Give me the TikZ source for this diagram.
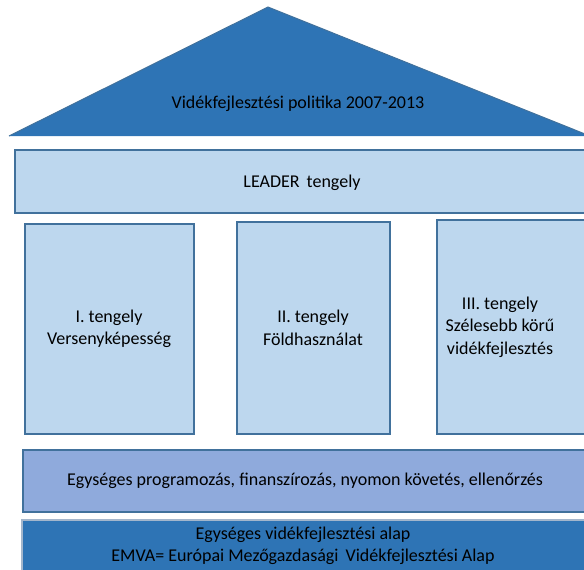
\documentclass[tikz,border=0pt]{standalone}
\usepackage{fontspec}
\setmainfont{Carlito}
\usetikzlibrary{positioning}
\definecolor{roofblue}{HTML}{2E74B5}
\definecolor{edgeblue}{HTML}{41719C}
\definecolor{paleblue}{HTML}{BDD7EE}
\definecolor{midblue}{HTML}{8FAADC}
\definecolor{softedge}{HTML}{A3B6CC}

\begin{document}
\begin{tikzpicture}[x=1pt,y=-1pt,
	label/.style={align=center,font=\fontsize{18}{22.5}\selectfont,inner sep=0pt},
	pillar/.style={draw=edgeblue,line width=2pt,fill=paleblue}]
	\useasboundingbox (0,0) rectangle (584,570);
	\clip (0,0) rectangle (584,570);
	% roof
	\fill[roofblue] (9,136) -- (268,7) -- (590,136) -- cycle;
	\draw[edgeblue,line width=1pt] (9,136) -- (268,7) -- (590,136);
	\node[label] (politika) at (298,104) {Vidékfejlesztési politika 2007-2013};
	% LEADER beam
	\draw[pillar] (15,150) rectangle (600,213);
	\node[label] (leader) at (302,183) {LEADER\, tengely};
	% the three axes
	\draw[pillar] (25,224) rectangle (194,434);
	\draw[pillar] (237,222) rectangle (390,434);
	\draw[pillar] (437,220) rectangle (600,434);
	\node[label] (axis1) at (109,329) {I. tengely\\Versenyképesség};
	\node[label] (axis2) at (313,328) {II. tengely\\Földhasználat};
	\node[label] (axis3) at (500,327) {III. tengely\\Szélesebb körű\\vidékfejlesztés};
	% base layers
	\draw[draw=edgeblue,line width=2pt,fill=midblue] (23,450) rectangle (600,512);
	\node[label] (program) at (305,481) {Egységes programozás, finanszírozás, nyomon követés, ellenőrzés};
	\draw[draw=softedge,line width=1.5pt,fill=roofblue] (22,520) rectangle (600,590);
	\node[label] (alap) at (303,546) {Egységes vidékfejlesztési alap\\EMVA= Európai Mezőgazdasági\, Vidékfejlesztési Alap};
\end{tikzpicture}
\end{document}
